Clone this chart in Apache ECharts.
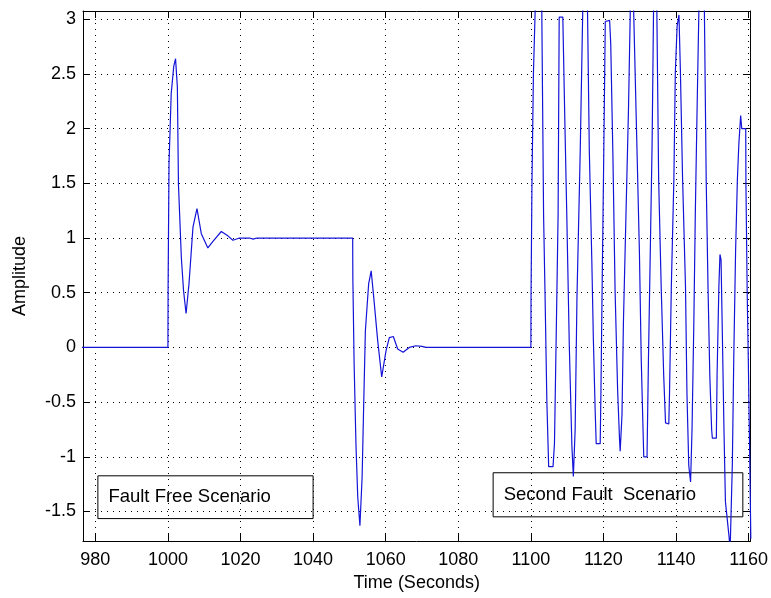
<!DOCTYPE html>
<html>
<head>
<meta charset="utf-8">
<title>Amplitude vs Time</title>
<script src="https://cdn.jsdelivr.net/npm/echarts@6/dist/echarts.min.js"></script>
<style>
  html, body { margin: 0; padding: 0; background: #fff; }
  #chart { width: 771px; height: 598px; }
</style>
</head>
<body>
<div id="chart"></div>
<script>
// tick labels
const xTicks = [980, 1000, 1020, 1040, 1060, 1080, 1100, 1120, 1140, 1160];
const yTicks = [-1.5, -1, -0.5, 0, 0.5, 1, 1.5, 2, 2.5, 3];

// signal (time in seconds, amplitude)
const times = [
  976, 1000, 1000.05, 1000.3, 1000.9, 1001.6, 1002.1, 1002.6, 1002.9, 1003.7,
  1004.3, 1005.0, 1005.8, 1006.9, 1008.0, 1009.2, 1011.0, 1012.4, 1014.7, 1016.5,
  1017.9, 1019.7, 1022.5, 1023.5, 1024.5, 1050.9, 1050.95, 1051.3, 1051.8, 1052.3,
  1052.9, 1053.5, 1053.9, 1054.4, 1055.3, 1056.0, 1056.7, 1057.8, 1058.9, 1060.1,
  1061.0, 1062.1, 1063.3, 1064.8, 1066.5, 1068.3, 1070.0, 1071.1, 1073, 1100,
  // second fault
  1100.05, 1100.3, 1100.7, 1101.2, 1102.0, 1103.0, 1103.5, 1103.9, 1104.4, 1104.9,
  1106.1, 1106.5, 1107.1, 1107.5, 1107.8, 1108.8, 1109.4, 1109.9, 1110.6, 1111.3,
  1111.7, 1112.2, 1112.7, 1113.1, 1113.6, 1114.3, 1115.0, 1115.6, 1116.1, 1116.8,
  1117.2, 1117.7, 1118.0, 1119.1, 1119.3, 1119.6, 1120.0, 1120.5, 1121.7, 1122.0,
  1122.6, 1123.2, 1123.9, 1124.4, 1124.6, 1125.1, 1125.5, 1126.2, 1126.9, 1127.4,
  1127.9, 1128.3, 1129.2, 1129.9, 1130.4, 1130.9, 1131.1, 1132.0, 1132.4, 1132.9,
  1133.4, 1133.8, 1134.3, 1134.7, 1135.2, 1135.9, 1136.6, 1137.1, 1138.0, 1138.2,
  1138.7, 1139.4, 1139.8, 1140.3, 1140.8, 1141.2, 1141.8, 1142.6, 1143.0, 1143.5,
  1144.0, 1144.4, 1144.9, 1145.3, 1145.8, 1146.3, 1147.0, 1147.8, 1148.3, 1148.8,
  1149.3, 1149.8, 1150.0, 1151.1, 1151.3, 1151.8, 1152.1, 1152.4, 1152.7, 1153.2,
  1153.6, 1154.6, 1154.9, 1155.5, 1155.9, 1156.4, 1156.9, 1157.3, 1157.8, 1158.1,
  1159.2, 1159.25, 1159.6, 1159.9, 1160.3, 1160.6
];
const amplitude = [
  0, 0, 0.56, 1.68, 2.32, 2.57, 2.64, 2.38, 1.49, 0.82,
  0.52, 0.31, 0.58, 1.10, 1.27, 1.04, 0.91, 0.97, 1.06, 1.02,
  0.98, 1.00, 1.00, 0.99, 1.00, 1.00, 0.63, -0.15, -0.88, -1.37,
  -1.63, -1.19, -0.58, 0.15, 0.58, 0.70, 0.46, 0.06, -0.27, -0.03,
  0.09, 0.10, -0.015, -0.045, 0, 0.015, 0.01, 0, 0, 0,
  0.5, 1.5, 2.5, 3.1, 3.45, 3.1, 1.21, 0.49, -0.49, -1.09,
  -1.09, -0.88, 0.36, 1.21, 3.02, 3.02, 2.0, 1.2, 0, -0.9,
  -1.18, -0.75, 0.46, 1.05, 1.8, 3.1, 3.35, 3.1, 1.8, 0.78,
  0.1, -0.56, -0.88, -0.88, -0.42, 0.46, 1.54, 2.98, 2.99, 2.78,
  1.76, 0.52, -0.39, -0.82, -0.95, -0.62, 0.23, 1.21, 2.19, 3.1,
  3.3, 3.1, 1.86, 0.88, -0.1, -0.75, -1.0, -1.0, -0.1, 0.88,
  1.86, 3.1, 3.4, 3.1, 1.54, 0.56, -0.26, -0.69, -0.70, -0.42,
  0.56, 1.54, 2.52, 2.94, 3.04, 2.52, 1.54, 0.56, -0.42, -1.08,
  -1.23, -0.75, 0.23, 1.21, 2.19, 3.1, 3.5, 3.1, 1.54, 0.56,
  -0.26, -0.75, -0.83, -0.83, -0.26, 0.56, 0.85, 0.80, 0.23, -0.75,
  -1.41, -1.73, -1.85, -1.08, -0.1, 0.88, 1.54, 1.86, 2.12, 2.0,
  2.0, 1.5, 0.5, -0.1, -1.0, -1.75
];

const boxLabels = ['Fault Free Scenario', 'Second Fault  Scenario'];

const font = "'Liberation Sans', Arial, sans-serif";
const xMin = 976.6, xMax = 1160.5;
const yMin = -1.77, yMax = 3.076;

const chart = echarts.init(document.getElementById('chart'));

const dotted = { color: '#000', width: 1, type: [1, 5] };
const frameLine = { show: true, onZero: false, lineStyle: { color: '#000', width: 1 } };

chart.setOption({
  animation: false,
  backgroundColor: '#fff',
  grid: { left: 83, right: 19, top: 11, bottom: 57, containLabel: false },
  xAxis: [{
    type: 'value',
    min: xMin,
    max: xMax,
    position: 'bottom',
    name: 'Time (Seconds)',
    nameLocation: 'middle',
    nameGap: 30,
    nameTextStyle: { color: '#000', fontSize: 18, fontFamily: font },
    axisLine: frameLine,
    axisTick: { show: true, inside: true, length: 7, customValues: xTicks, lineStyle: { color: '#000' } },
    axisLabel: {
      customValues: xTicks, color: '#000', fontSize: 18, fontFamily: font, margin: 10,
      formatter: v => String(v)
    },
    splitLine: { show: true, lineStyle: dotted }
  }, {
    type: 'value',
    min: xMin,
    max: xMax,
    position: 'top',
    axisLine: frameLine,
    axisTick: { show: true, inside: true, length: 7, customValues: xTicks, lineStyle: { color: '#000' } },
    axisLabel: { show: false },
    splitLine: { show: false }
  }],
  yAxis: [{
    type: 'value',
    min: yMin,
    max: yMax,
    position: 'left',
    name: 'Amplitude',
    nameLocation: 'middle',
    nameGap: 54,
    nameTextStyle: { color: '#000', fontSize: 18, fontFamily: font },
    axisLine: frameLine,
    axisTick: { show: true, inside: true, length: 7, customValues: yTicks, lineStyle: { color: '#000' } },
    axisLabel: {
      customValues: yTicks, color: '#000', fontSize: 18, fontFamily: font, margin: 7,
      formatter: v => String(v)
    },
    splitLine: { show: true, lineStyle: dotted }
  }, {
    type: 'value',
    min: yMin,
    max: yMax,
    position: 'right',
    axisLine: frameLine,
    axisTick: { show: true, inside: true, length: 7, customValues: yTicks, lineStyle: { color: '#000' } },
    axisLabel: { show: false },
    splitLine: { show: false }
  }],
  series: [{
    type: 'line',
    xAxisIndex: 0,
    yAxisIndex: 0,
    data: times.map((t, i) => [t, amplitude[i]]),
    showSymbol: false,
    symbol: 'none',
    clip: true,
    lineStyle: { color: '#1414d8', width: 1.2 },
    markArea: {
      silent: true,
      itemStyle: { color: 'rgba(0,0,0,0)', borderColor: '#000', borderWidth: 1 },
      label: {
        show: true,
        position: 'insideLeft',
        distance: 11,
        color: '#000',
        fontSize: 18.5,
        fontFamily: font
      },
      data: [
        [{ name: boxLabels[0], coord: [980.7, -1.174] }, { coord: [1040.0, -1.565] }],
        [{ name: boxLabels[1], coord: [1089.6, -1.146] }, { coord: [1158.4, -1.549] }]
      ]
    }
  }]
});
</script>
</body>
</html>
